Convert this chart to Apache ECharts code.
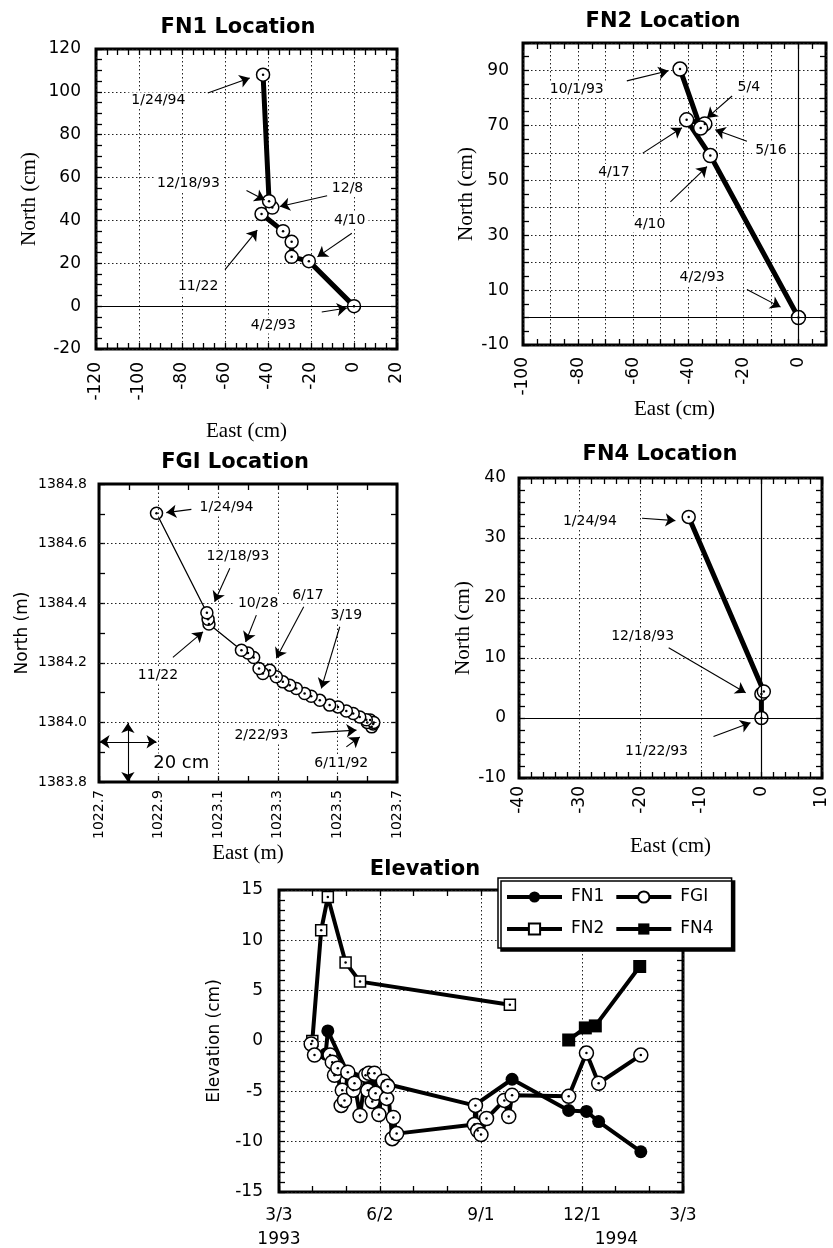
<!DOCTYPE html>
<html><head><meta charset="utf-8">
<script src="https://cdn.jsdelivr.net/npm/echarts@6/dist/echarts.min.js"></script>
<style>html,body{margin:0;padding:0;background:#fff}#c{width:833px;height:1248px}</style>
</head><body><div id="c"></div>
<script>
// ================= DATA =================
// FN1 location (cm)
const fn1East  = [0, -21, -29, -29, -33, -43, -38, -39.5, -42.3];
const fn1North = [0, 21, 23, 30, 35, 43, 46, 49, 108];
const fn1Notes = [['1/24/94', -91, 96], ['12/18/93', -77, 57.5], ['12/8', -3, 55], ['4/10', -2, 40], ['11/22', -72.5, 9], ['4/2/93', -37.5, -9]];
const fn1Arrows = [[-68, 99.5, -48.5, 106.5], [-50, 54, -41.5, 49.5], [-12.5, 51.5, -34.5, 46.5], [-1, 34, -17, 23], [-60, 17, -45, 35.5], [-15, -2.7, -3.3, -0.9]];

// FN2 location (cm)
const fn2East  = [0, -32, -40.6, -34, -35.5, -43];
const fn2North = [0, 59, 72, 70.5, 69, 90.5];
const fn2Notes = [['10/1/93', -80.5, 83], ['5/4', -18, 83.7], ['5/16', -10, 61], ['4/17', -67, 53], ['4/10', -54, 34], ['4/2/93', -35, 14.5]];
const fn2Arrows = [[-62.3, 86.2, -47.2, 89.9], [-24.1, 80.7, -33.2, 72.7], [-18.7, 64.2, -30.2, 68.4], [-56.5, 59.9, -42.3, 69.1], [-46.5, 42.1, -33.2, 55], [-18.7, 10.2, -6.5, 3.8]];

// FGI location (m)
const fgiEast  = [1023.615, 1023.620, 1023.610, 1023.600, 1023.622, 1023.597, 1023.575, 1023.553, 1023.530, 1023.502, 1023.474, 1023.441, 1023.412, 1023.390, 1023.362, 1023.340, 1023.317, 1023.295, 1023.273, 1023.250, 1023.237, 1023.219, 1023.200, 1023.178, 1023.069, 1023.066, 1023.062, 1022.893];
const fgiNorth = [1383.985, 1383.995, 1384.008, 1384.000, 1384.000, 1384.009, 1384.018, 1384.030, 1384.038, 1384.052, 1384.058, 1384.074, 1384.088, 1384.097, 1384.114, 1384.125, 1384.136, 1384.153, 1384.175, 1384.164, 1384.181, 1384.218, 1384.233, 1384.242, 1384.330, 1384.346, 1384.368, 1384.702];
const fgiNotes = [['1/24/94', 1023.128, 1384.722], ['12/18/93', 1023.166, 1384.556], ['10/28', 1023.234, 1384.401], ['6/17', 1023.401, 1384.427], ['3/19', 1023.530, 1384.360], ['11/22', 1022.898, 1384.158], ['2/22/93', 1023.245, 1383.957], ['6/11/92', 1023.513, 1383.862]];
const fgiArrows = [[1023.010, 1384.715, 1022.926, 1384.704], [1023.139, 1384.517, 1023.088, 1384.405], [1023.228, 1384.360, 1023.192, 1384.270], [1023.387, 1384.388, 1023.295, 1384.215], [1023.508, 1384.321, 1023.446, 1384.114], [1022.948, 1384.218, 1023.049, 1384.304], [1023.413, 1383.965, 1023.564, 1383.974], [1023.530, 1383.918, 1023.575, 1383.951]];
const fgiScaleLabel = ['20 cm', 1022.976, 1383.862];
const fgiScaleBars = [[1022.702, 1383.935, 1022.893, 1383.935], [1022.797, 1383.998, 1022.797, 1383.8]];
const fgiGridEast  = [1022.9, 1023.1, 1023.3, 1023.5];
const fgiGridNorth = [1384.0, 1384.2, 1384.4, 1384.6];

// FN4 location (cm)
const fn4East  = [0, 0, 0.4, -12];
const fn4North = [0, 4, 4.4, 33.5];
const fn4Notes = [['1/24/94', -28.3, 32.8], ['12/18/93', -19.6, 13.6], ['11/22/93', -17.3, -5.6]];
const fn4Arrows = [[-19.7, 33.3, -14.2, 32.9], [-15.3, 11.7, -2.6, 4.2], [-7.9, -3.1, -1.8, -0.8]];

// Elevation (cm) vs date
const elevTickLabels = ['3/3', '6/2', '9/1', '12/1', '3/3'];
const elevYears = [['1993', '1993-03-03'], ['1994', '1994-01-01']];
const fn1ElevDates  = ['1993-04-14', '1993-04-16', '1993-05-03', '1993-06-09', '1993-08-26', '1993-09-29', '1993-11-19', '1993-12-05', '1993-12-16', '1994-01-23'];
const fn1ElevValues = [-1.3, 1.0, -3.0, -4.3, -6.4, -3.8, -6.9, -7.0, -8.0, -11.0];
const fn2ElevDates  = ['1993-04-02', '1993-04-10', '1993-04-16', '1993-05-02', '1993-05-15', '1993-09-27'];
const fn2ElevValues = [0.0, 11.0, 14.3, 7.8, 5.9, 3.6];
const fn4ElevDates  = ['1993-11-19', '1993-12-04', '1993-12-13', '1994-01-22'];
const fn4ElevValues = [0.1, 1.3, 1.5, 7.4];
const fgiElevDates  = ['1993-04-01', '1993-04-04', '1993-04-18', '1993-04-20', '1993-04-22', '1993-04-25', '1993-04-28', '1993-04-29', '1993-05-01', '1993-05-04', '1993-05-09', '1993-05-10', '1993-05-15', '1993-05-20', '1993-05-22', '1993-05-23', '1993-05-26', '1993-05-28', '1993-05-29', '1993-06-01', '1993-06-05', '1993-06-08', '1993-06-09', '1993-06-13', '1993-06-14', '1993-06-17', '1993-08-26', '1993-08-27', '1993-08-29', '1993-09-01', '1993-09-06', '1993-09-22', '1993-09-26', '1993-09-29', '1993-11-19', '1993-12-05', '1993-12-16', '1994-01-23'];
const fgiElevValues = [-0.3, -1.4, -1.4, -2.1, -3.4, -2.7, -6.4, -4.9, -5.9, -3.1, -4.9, -4.2, -7.4, -3.4, -4.9, -3.2, -6.0, -3.2, -5.2, -7.3, -4.0, -5.7, -4.5, -9.7, -7.6, -9.2, -8.3, -6.4, -8.9, -9.3, -7.7, -5.9, -7.5, -5.4, -5.5, -1.2, -4.2, -1.4];

// ================= HELPERS =================
const SANS = "'DejaVu Sans', sans-serif";
const SERIF = "'Liberation Serif', 'Times New Roman', serif";
const DAY0 = Date.UTC(1993, 2, 3);
const toDay = s => { const p = s.split('-').map(Number); return (Date.UTC(p[0], p[1] - 1, p[2]) - DAY0) / 864e5; };
const zip = (a, b) => a.map((v, i) => [v, b[i]]);
const tickLS = { color: '#000', width: 1.3 };
const gridLS = { color: '#222', type: [1.5, 2.5], width: 1 };

function axisPair(kind, g, o) {
  const base = {
    type: 'value', gridIndex: g, min: o.min, max: o.max, interval: o.interval,
    axisLine: { show: false, onZero: false },
    axisTick: { show: true, inside: true, length: 6, lineStyle: tickLS },
    minorTick: { show: !!o.minor, splitNumber: o.minor || 2, length: 6, lineStyle: tickLS },
    splitLine: { show: o.grid !== false, lineStyle: gridLS },
    minorSplitLine: { show: false }
  };
  const main = Object.assign({}, base, {
    position: kind === 'x' ? 'bottom' : 'left',
    name: o.name, nameLocation: 'middle', nameGap: o.nameGap,
    nameTextStyle: Object.assign({ color: '#000' }, o.nameStyle),
    axisLabel: { show: true, rotate: o.rotate || 0, margin: o.margin, fontSize: o.fontSize, fontFamily: SANS,
      color: '#000', formatter: o.formatter, hideOverlap: false, showMinLabel: true, showMaxLabel: true }
  });
  const mirror = Object.assign({}, base, {
    position: kind === 'x' ? 'top' : 'right', axisLabel: { show: false }, splitLine: { show: false }
  });
  return [main, mirror];
}
const everyOther = (min, step, dec) => v => (Math.round((v - min) / step) % 2 === 0 ? v.toFixed(dec) : '');

function locSeries(g, pts, width, size, zeroLines) {
  return {
    type: 'line', xAxisIndex: 2 * g, yAxisIndex: 2 * g, z: 4, silent: true, data: pts,
    symbol: 'circle', symbolSize: size, showSymbol: true,
    lineStyle: { color: '#000', width: width }, itemStyle: { color: '#fff', borderColor: '#000', borderWidth: 1.5 },
    markLine: zeroLines ? { silent: true, symbol: 'none', label: { show: false }, emphasis: { disabled: true },
      lineStyle: { color: '#000', width: 1.2, type: 'solid' }, data: zeroLines } : undefined
  };
}
function dotSeries(g, pts, z) {
  return { type: 'scatter', xAxisIndex: 2 * g, yAxisIndex: 2 * g, z: z || 5, silent: true, symbol: 'circle',
    symbolSize: 2.5, itemStyle: { color: '#000', opacity: 1 }, data: pts };
}
function noteSeries(g, notes, arrows, fontSize, bothEnds) {
  return {
    type: 'scatter', xAxisIndex: 2 * g, yAxisIndex: 2 * g, z: 6, silent: true, symbolSize: 1,
    itemStyle: { color: 'rgba(255,255,255,0)', opacity: 1 },
    data: notes.map(n => ({ name: n[0], value: [n[1], n[2]] })),
    label: { show: true, position: 'inside', formatter: '{b}', fontSize: fontSize || 14,
      fontFamily: SANS, color: '#000', opacity: 1, backgroundColor: '#fff', padding: [1, 3] },
    markLine: { silent: true, symbol: bothEnds ? ['arrow', 'arrow'] : ['none', 'arrow'], symbolSize: 10,
      label: { show: false }, emphasis: { disabled: true },
      lineStyle: { color: '#000', width: 1.1, type: 'solid', opacity: 1 },
      data: arrows.map(a => [{ coord: [a[0], a[1]] }, { coord: [a[2], a[3]] }]) }
  };
}

// ================= AXES =================
const nameSerif = { fontFamily: SERIF, fontSize: 21 };
const xAxis = [], yAxis = [];
// FN1 (grid 0)
xAxis.push(...axisPair('x', 0, { min: -120, max: 20, interval: 20, minor: 4, rotate: 90, margin: 13, fontSize: 17,
  name: 'East (cm)', nameGap: 72, nameStyle: nameSerif }));
yAxis.push(...axisPair('y', 0, { min: -20, max: 120, interval: 20, minor: 4, margin: 15, fontSize: 17,
  name: 'North (cm)', nameGap: 56, nameStyle: nameSerif }));
// FN2 (grid 1)
xAxis.push(...axisPair('x', 1, { min: -100, max: 10, interval: 10, minor: 2, rotate: 90, margin: 12, fontSize: 17,
  formatter: everyOther(-100, 10, 0), name: 'East (cm)', nameGap: 52, nameStyle: nameSerif }));
yAxis.push(...axisPair('y', 1, { min: -10, max: 100, interval: 10, minor: 2, margin: 14, fontSize: 17,
  formatter: everyOther(-10, 10, 0), name: 'North (cm)', nameGap: 46, nameStyle: nameSerif }));
// FGI (grid 2)
xAxis.push(...axisPair('x', 2, { min: 1022.7, max: 1023.7, interval: 0.1, grid: false, rotate: 90, margin: 8, fontSize: 14,
  formatter: everyOther(1022.7, 0.1, 1), name: 'East (m)', nameGap: 57, nameStyle: nameSerif }));
yAxis.push(...axisPair('y', 2, { min: 1383.8, max: 1384.8, interval: 0.1, grid: false, margin: 12, fontSize: 14,
  formatter: everyOther(1383.8, 0.1, 1), name: 'North (m)', nameGap: 68, nameStyle: { fontFamily: SANS, fontSize: 17 } }));
// FN4 (grid 3)
xAxis.push(...axisPair('x', 3, { min: -40, max: 10, interval: 10, minor: 5, rotate: 90, margin: 8, fontSize: 17,
  name: 'East (cm)', nameGap: 58, nameStyle: nameSerif }));
yAxis.push(...axisPair('y', 3, { min: -10, max: 40, interval: 10, minor: 5, margin: 13, fontSize: 17,
  name: 'North (cm)', nameGap: 43, nameStyle: nameSerif }));
// Elevation (grid 4)
xAxis.push(...axisPair('x', 4, { min: 0, max: 364, interval: 91, minor: 3, margin: 15, fontSize: 17,
  formatter: v => (Math.abs(v / 91 - Math.round(v / 91)) < 1e-6 ? (elevTickLabels[Math.round(v / 91)] || '') : '') }));
yAxis.push(...axisPair('y', 4, { min: -15, max: 15, interval: 5, minor: 5, margin: 16, fontSize: 17,
  name: 'Elevation (cm)', nameGap: 56, nameStyle: { fontFamily: SANS, fontSize: 17 } }));

const gridBox = (l, t, w, h) => ({ left: l, top: t, width: w, height: h, show: true, borderColor: '#000', borderWidth: 3,
  backgroundColor: 'transparent', containLabel: false, outerBoundsMode: 'none' });

// ================= SERIES =================
const fn1Pts = zip(fn1East, fn1North), fn2Pts = zip(fn2East, fn2North), fgiPts = zip(fgiEast, fgiNorth), fn4Pts = zip(fn4East, fn4North);
const elev = (d, v) => d.map((s, i) => [toDay(s), v[i]]);
const fn1E = elev(fn1ElevDates, fn1ElevValues), fn2E = elev(fn2ElevDates, fn2ElevValues),
      fn4E = elev(fn4ElevDates, fn4ElevValues), fgiE = elev(fgiElevDates, fgiElevValues);

const series = [
  // FN1
  locSeries(0, fn1Pts, 5, 13, [{ yAxis: 0 }]), dotSeries(0, fn1Pts), noteSeries(0, fn1Notes, fn1Arrows),
  // FN2
  locSeries(1, fn2Pts, 5, 14, [{ yAxis: 0 }, { xAxis: 0 }]), dotSeries(1, fn2Pts), noteSeries(1, fn2Notes, fn2Arrows),
  // FGI grid lines (dotted) under data
  { type: 'line', xAxisIndex: 4, yAxisIndex: 4, z: 1, silent: true, data: [[1022.7, 1383.8]], symbol: 'none', lineStyle: { width: 0 },
    markLine: { silent: true, symbol: 'none', label: { show: false }, emphasis: { disabled: true }, lineStyle: gridLS,
      data: fgiGridEast.map(v => ({ xAxis: v })).concat(fgiGridNorth.map(v => ({ yAxis: v }))) } },
  locSeries(2, fgiPts, 1.3, 12, null), dotSeries(2, fgiPts), noteSeries(2, fgiNotes, fgiArrows),
  noteSeries(2, [fgiScaleLabel], fgiScaleBars, 18, true),
  // FN4
  locSeries(3, fn4Pts, 5, 13, [{ yAxis: 0 }, { xAxis: 0 }]), dotSeries(3, fn4Pts), noteSeries(3, fn4Notes, fn4Arrows),
  // Elevation
  { name: 'FN1', type: 'line', xAxisIndex: 8, yAxisIndex: 8, z: 3, silent: true, data: fn1E, symbol: 'circle', symbolSize: 13,
    lineStyle: { color: '#000', width: 4 }, itemStyle: { color: '#000' } },
  { name: 'FN2', type: 'line', xAxisIndex: 8, yAxisIndex: 8, z: 3, silent: true, data: fn2E, symbol: 'rect', symbolSize: 11,
    lineStyle: { color: '#000', width: 4 }, itemStyle: { color: '#fff', borderColor: '#000', borderWidth: 1.5 } },
  { name: 'FN4', type: 'line', xAxisIndex: 8, yAxisIndex: 8, z: 3, silent: true, data: fn4E, symbol: 'rect', symbolSize: 13,
    lineStyle: { color: '#000', width: 4 }, itemStyle: { color: '#000' } },
  { name: 'FGI', type: 'line', xAxisIndex: 8, yAxisIndex: 8, z: 4, silent: true, data: fgiE, symbol: 'circle', symbolSize: 14,
    lineStyle: { color: '#000', width: 4 }, itemStyle: { color: '#fff', borderColor: '#000', borderWidth: 1.5 } },
  dotSeries(4, fn2E, 4), dotSeries(4, fgiE, 5)
];

const option = {
  animation: false,
  backgroundColor: '#fff',
  grid: [gridBox(96, 49, 301, 300), gridBox(523, 43, 303, 302), gridBox(99, 484, 298, 298), gridBox(519, 478, 303, 300), gridBox(279, 890, 404, 302)],
  xAxis: xAxis, yAxis: yAxis,
  legend: { data: ['FN1', 'FGI', 'FN2', 'FN4'], left: 498, top: 878, width: 214, orient: 'horizontal', selectedMode: false,
    itemWidth: 55, itemHeight: 14, itemGap: 10, padding: [8, 18, 8, 7], backgroundColor: '#fff', borderColor: '#000', borderWidth: 1.5,
    shadowColor: '#000', shadowOffsetX: 3, shadowOffsetY: 3, shadowBlur: 0, z: 20,
    lineStyle: { width: 4, color: '#000' },
    textStyle: { fontSize: 17, lineHeight: 22, fontFamily: SANS, color: '#000', padding: [0, 0, 0, 4] } },
  series: series
};

const chart = echarts.init(document.getElementById('c'), null, { renderer: 'canvas' });
chart.setOption(option);

const titles = [['FN1 Location', 238, 28], ['FN2 Location', 663, 22], ['FGI Location', 235, 463], ['FN4 Location', 660, 455], ['Elevation', 425, 870]];
const graphic = titles.map(t => ({ type: 'text', x: t[1], y: t[2], z: 30,
  style: { text: t[0], fontSize: 21, fontWeight: 'bold', fontFamily: SANS, fill: '#000', align: 'center', verticalAlign: 'middle' } }));
const yBase = chart.convertToPixel({ yAxisIndex: 8 }, -15);
elevYears.forEach(y => {
  const px = chart.convertToPixel({ xAxisIndex: 8 }, toDay(y[1]));
  graphic.push({ type: 'text', x: px, y: yBase + 48, z: 30,
    style: { text: y[0], fontSize: 17, fontFamily: SANS, fill: '#000', align: 'center', verticalAlign: 'middle' } });
});
chart.setOption({ graphic: graphic });
</script>
</body></html>
